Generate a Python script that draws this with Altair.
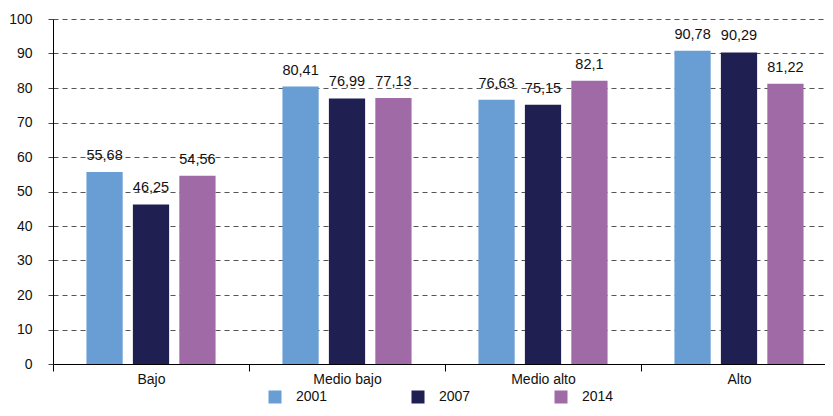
import altair as alt
import pandas as pd

categories = ["Bajo", "Medio bajo", "Medio alto", "Alto"]
years = ["2001", "2007", "2014"]
v2001 = [55.68, 80.41, 76.63, 90.78]
v2007 = [46.25, 76.99, 75.15, 90.29]
v2014 = [54.56, 77.13, 82.1, 81.22]
colors = ["#689ED4", "#1F1F52", "#A06AA6"]

rows = []
for yr, vals in zip(years, [v2001, v2007, v2014]):
    for c, v in zip(categories, vals):
        rows.append({"cat": c, "year": yr, "value": v, "label": str(v).replace(".", ",")})
df = pd.DataFrame(rows)

FONT = "Liberation Sans"

x = alt.X("cat:N", sort=categories, title=None,
          scale=alt.Scale(paddingInner=0, paddingOuter=0),
          axis=alt.Axis(labelAngle=0, tickBand="extent", labelFontSize=14, labelColor="#111",
                        labelFont=FONT, domainColor="#000", tickColor="#000", tickSize=7,
                        labelPadding=1, grid=False))
xo = alt.XOffset("year:N", sort=years, scale=alt.Scale(paddingInner=0.22, paddingOuter=0.72))
y = alt.Y("value:Q", title=None,
          scale=alt.Scale(domain=[0, 100], nice=False),
          axis=alt.Axis(values=list(range(0, 101, 10)), labelFontSize=14, labelColor="#111",
                        labelFont=FONT, domainColor="#000", tickColor="#444", tickSize=5,
                        labelPadding=16, labelOverlap=False, grid=True, gridColor="#555",
                        gridDash=[5, 4], gridWidth=1))

bars = alt.Chart(df).mark_bar().encode(
    x=x, xOffset=xo, y=y,
    color=alt.Color("year:N", sort=years, title=None,
                    scale=alt.Scale(domain=years, range=colors),
                    legend=alt.Legend(orient="none", legendX=215, legendY=371,
                                      direction="horizontal", symbolType="square",
                                      symbolSize=169, symbolStrokeWidth=0, labelFontSize=14,
                                      labelFont=FONT, labelColor="#111", columnPadding=83,
                                      labelOffset=14)),
)

text = alt.Chart(df).mark_text(baseline="bottom", dy=-9, fontSize=14.5, font=FONT, color="#111").encode(
    x=x, xOffset=xo, y=y, text="label:N"
)

chart = alt.layer(bars, text).properties(
    width=784, height=345,
    autosize=alt.AutoSizeParams(type="none"),
    padding={"left": 45, "top": 11, "right": -12, "bottom": 40},
).configure_view(stroke=None)

chart.save("out.html", embed_options={"renderer": "svg", "actions": False})
